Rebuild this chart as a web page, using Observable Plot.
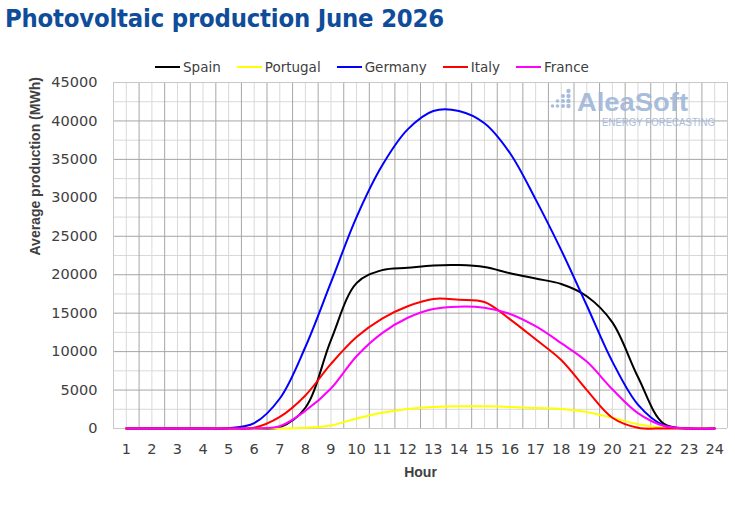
<!DOCTYPE html>
<html><head><meta charset="utf-8">
<script src="https://cdn.jsdelivr.net/npm/d3@7"></script>
<script src="https://cdn.jsdelivr.net/npm/@observablehq/plot@0.6"></script>
<style>
html,body{margin:0;padding:0;background:#fff;}
#wrap{position:relative;width:735px;height:506px;overflow:hidden;}
#title{position:absolute;left:5px;top:3px;font-weight:bold;font-size:25.4px;font-family:"DejaVu Sans Condensed","DejaVu Sans",sans-serif;color:#0F4C9A;white-space:nowrap;letter-spacing:-0.2px;}
#legend{position:absolute;left:155px;top:58px;display:flex;gap:16px;font-size:13.5px;font-family:"DejaVu Sans",sans-serif;color:#404040;line-height:18px;}
.item{display:flex;align-items:center;}
.sw{width:25px;height:2px;margin-right:3px;}
#chart{position:absolute;left:0;top:70px;}
#overlay{position:absolute;left:0;top:0;pointer-events:none;}
</style></head>
<body><div id="wrap">
<div id="title">Photovoltaic production June 2026</div>
<div id="legend"></div>
<div id="chart"></div>
<svg id="overlay" width="735" height="506"></svg>
</div>
<script>
const hours = [1,2,3,4,5,6,7,8,9,10,11,12,13,14,15,16,17,18,19,20,21,22,23,24];
const names = ["Spain","Portugal","Germany","Italy","France"];
const colors = ["#000000","#FFFF00","#0000FF","#FF0000","#FF00FF"];
const spain    = [0,0,0,0,0,0,150,2700,11500,18900,20600,20900,21200,21250,21000,20200,19500,18800,17200,13800,6700,650,0,0];
const portugal = [0,0,0,0,0,0,0,100,400,1300,2050,2550,2800,2900,2880,2800,2650,2550,2150,1400,560,100,0,0];
const germany  = [0,0,0,0,30,700,3900,10600,19000,27500,34200,38900,41300,41300,39700,35800,29800,23200,16000,8700,3100,400,0,0];
const italy    = [0,0,0,0,0,100,1500,4300,8400,11900,14300,15900,16850,16750,16450,14200,11600,8900,5000,1400,100,0,0,0];
const france   = [0,0,0,0,0,30,300,2300,5200,9400,12400,14400,15550,15850,15700,14900,13300,11100,8700,5100,2000,350,0,0];
const yTicks = [0,5000,10000,15000,20000,25000,30000,35000,40000,45000];
const titleX = "Hour";
const titleY = "Average production (MWh)";

const seriesValues = [spain, portugal, germany, italy, france];
const data = names.flatMap((n, k) => seriesValues[k].map((v, i) => ({name: n, hour: hours[i], value: v})));

const lightX = hours;
const darkX = hours.slice(0, -1).map(h => h + 0.5);
const edgeX = [hours[0] - 0.5, hours[hours.length - 1] + 0.5];
const darkY = yTicks.slice(1, -1);
const lightY = yTicks.slice(0, -1).map(v => v + 2500);
const edgeY = [yTicks[0], yTicks[yTicks.length - 1]];

const chart = Plot.plot({
  width: 735, height: 436,
  marginLeft: 113, marginRight: 8, marginTop: 12, marginBottom: 78,
  style: {fontFamily: "DejaVu Sans, sans-serif", background: "transparent"},
  x: {domain: edgeX, axis: null},
  y: {domain: edgeY, axis: null},
  color: {domain: names, range: colors},
  marks: [
    Plot.ruleX(lightX, {stroke: "#D9D9D9", strokeWidth: 1}),
    Plot.ruleY(lightY, {stroke: "#D9D9D9", strokeWidth: 1}),
    Plot.ruleX(darkX, {stroke: "#A6A6A6", strokeWidth: 1}),
    Plot.ruleY(darkY, {stroke: "#A6A6A6", strokeWidth: 1}),
    Plot.ruleX(edgeX, {stroke: "#C8C8C8", strokeWidth: 1}),
    Plot.ruleY(edgeY, {stroke: "#C8C8C8", strokeWidth: 1}),
    Plot.line(data, {x: "hour", y: "value", z: "name", stroke: "name", curve: "catmull-rom", strokeWidth: 2}),
    Plot.axisX(hours, {tickSize: 0, tickPadding: 15, fontSize: 14.5, color: "#404040", label: null, tickFormat: d => String(d)}),
    Plot.axisY(yTicks, {tickSize: 0, tickPadding: 16, fontSize: 14.5, color: "#404040", label: null, tickFormat: d => String(d)}),
    Plot.text([titleX], {frameAnchor: "bottom", dy: 48, fontSize: 14, fontWeight: "bold", fontFamily: "Liberation Sans, Arial, sans-serif", fill: "#404040"}),
    Plot.text([titleY], {frameAnchor: "left", dx: -78, rotate: -90, fontSize: 14, fontWeight: "bold", fontFamily: "Liberation Sans, Arial, sans-serif", fill: "#404040"})
  ]
});
document.getElementById("chart").appendChild(chart);

const legend = d3.select("#legend");
names.forEach((n, k) => {
  const it = legend.append("div").attr("class", "item");
  it.append("div").attr("class", "sw").style("background", colors[k]);
  it.append("span").text(n);
});

const ov = d3.select("#overlay");
const logo = ov.append("g").attr("fill", "#9FB6D8").attr("opacity", 0.9);
const dots = [[552.5,106,1.8],[557.5,101,1.8],[557.5,106,1.8],[563,96,2],[563,101,2],[563,106,2],[568.5,91,2.2],[568.5,96,2.2],[568.5,101,2.2],[568.5,106,2.2]];
dots.forEach(d => logo.append("circle").attr("cx", d[0]).attr("cy", d[1]).attr("r", d[2]));
logo.append("text").attr("x", 577).attr("y", 111).attr("font-family", "Liberation Sans, Arial, sans-serif").attr("font-weight", "bold").attr("font-size", 26).attr("textLength", 111).attr("lengthAdjust", "spacingAndGlyphs").text("AleaSoft");
logo.append("text").attr("x", 602).attr("y", 126).attr("font-family", "Liberation Sans, Arial, sans-serif").attr("font-size", 10).attr("textLength", 113).attr("lengthAdjust", "spacingAndGlyphs").text("ENERGY FORECASTING");
</script>
</body></html>
